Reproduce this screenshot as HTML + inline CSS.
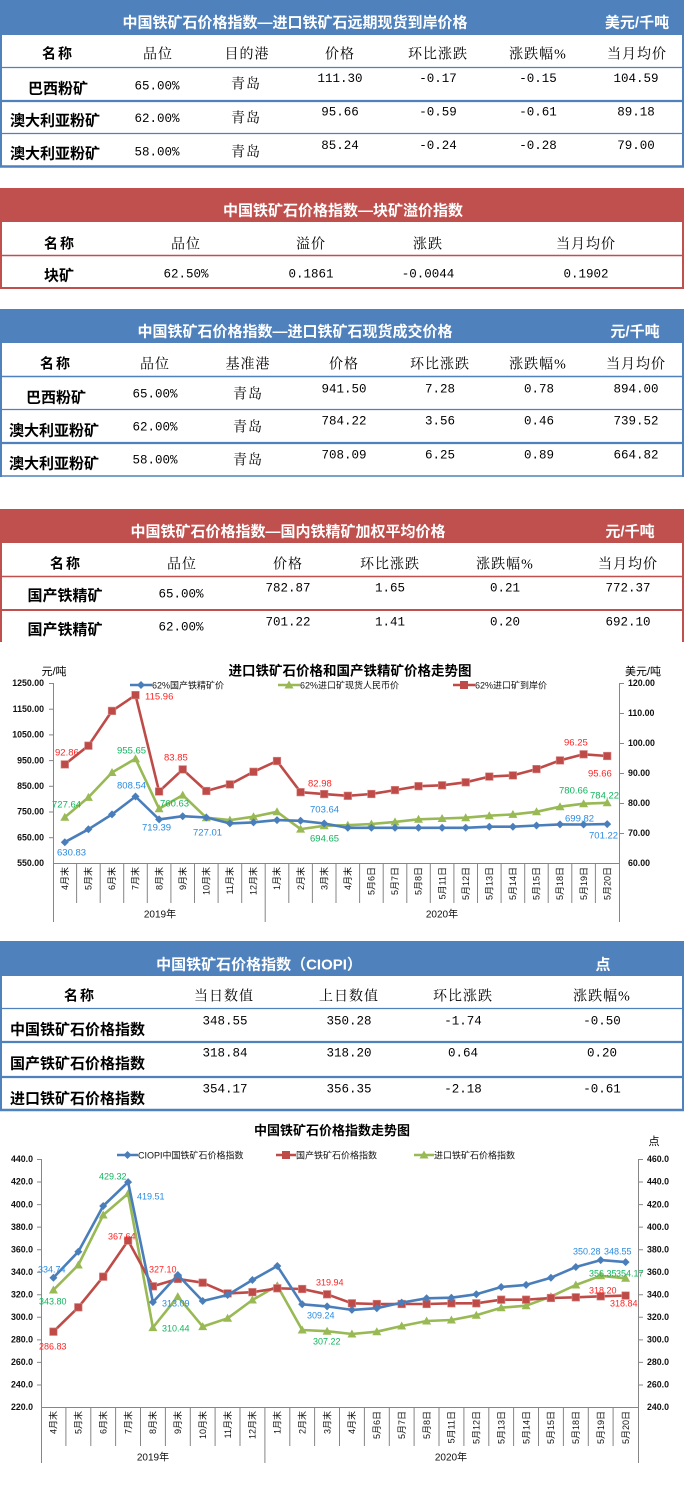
<!DOCTYPE html>
<html><head><meta charset="utf-8">
<style>
html,body{margin:0;padding:0;background:#fff;}
svg{display:block;}
.cj{font-family:"Liberation Sans","Noto Sans CJK SC",sans-serif;}
.mo{font-family:"Liberation Mono",monospace;font-size:12.5px;fill:#000;}
.tt{font-family:"Liberation Sans","Noto Sans CJK SC",sans-serif;font-size:15px;font-weight:bold;fill:#fff;}
.ch{font-family:"Liberation Serif","Noto Serif CJK SC",serif;font-size:14px;fill:#000;letter-spacing:1px;}
.chb{font-family:"Liberation Sans","Noto Sans CJK SC",sans-serif;font-size:14px;fill:#000;letter-spacing:2px;font-weight:bold;}
.nm{font-family:"Liberation Sans","Noto Sans CJK SC",sans-serif;font-size:15px;font-weight:bold;fill:#000;}
.ax{font-family:"Liberation Sans","Noto Sans CJK SC",sans-serif;font-size:9px;fill:#111;}
.lg{font-family:"Liberation Sans","Noto Sans CJK SC",sans-serif;font-size:9px;fill:#111;}
.dl{font-family:"Liberation Sans",sans-serif;font-size:9.5px;}
.b{fill:#2A8BE0;} .r{fill:#FF2424;} .g{fill:#12B45E;}
</style></head>
<body>
<svg width="684" height="1487" viewBox="0 0 684 1487" xmlns="http://www.w3.org/2000/svg">
<defs>
<marker id="dia" markerWidth="10" markerHeight="10" refX="5" refY="5" markerUnits="userSpaceOnUse" overflow="visible"><path d="M5,1 L9,5 L5,9 L1,5Z" fill="#4A7EBB"/></marker>
<marker id="sq" markerWidth="10" markerHeight="10" refX="5" refY="5" markerUnits="userSpaceOnUse" overflow="visible"><rect x="1.2" y="1.2" width="7.6" height="7.6" fill="#BE4B48" stroke="#D88A88" stroke-width="0.6"/></marker>
<marker id="tri" markerWidth="10" markerHeight="10" refX="5" refY="5" markerUnits="userSpaceOnUse" overflow="visible"><path d="M5,0.5 L9.5,8.5 L0.5,8.5Z" fill="#98B954"/></marker>
</defs>

<!-- ============ TABLE 1 ============ -->
<rect x="0" y="0" width="684" height="35" fill="#4F81BD"/>
<text class="tt" x="295" y="27.4" text-anchor="middle">中国铁矿石价格指数—进口铁矿石远期现货到岸价格</text>
<text class="tt" x="637" y="27.4" text-anchor="middle">美元/千吨</text>
<g stroke="#4F81BD" fill="none">
<line x1="1" y1="35" x2="1" y2="167" stroke-width="2"/>
<line x1="683" y1="35" x2="683" y2="167" stroke-width="2"/>
<line x1="0" y1="67.5" x2="684" y2="67.5" stroke-width="1.2"/>
<line x1="0" y1="101" x2="684" y2="101" stroke-width="2.2"/>
<line x1="0" y1="133.5" x2="684" y2="133.5" stroke-width="1.2"/>
<line x1="0" y1="166.5" x2="684" y2="166.5" stroke-width="2.4"/>
</g>
<text class="chb" x="58" y="58.3" text-anchor="middle">名称</text>
<g class="ch" text-anchor="middle">
<text x="158" y="58.3">品位</text><text x="247" y="58.3">目的港</text><text x="340" y="58.3">价格</text><text x="438" y="58.3">环比涨跌</text><text x="538" y="58.3">涨跌幅%</text><text x="637" y="58.3">当月均价</text>
</g>
<g class="nm" text-anchor="middle">
<text x="58" y="93.7">巴西粉矿</text><text x="55" y="125.7">澳大利亚粉矿</text><text x="55" y="158.7">澳大利亚粉矿</text>
</g>
<g class="mo" text-anchor="middle">
<text x="157" y="89.5">65.00%</text><text x="157" y="122.2">62.00%</text><text x="157" y="155.5">58.00%</text>
<text x="340" y="82.2">111.30</text><text x="438" y="82.2">-0.17</text><text x="538" y="82.2">-0.15</text><text x="636" y="82.2">104.59</text>
<text x="340" y="115.5">95.66</text><text x="438" y="115.5">-0.59</text><text x="538" y="115.5">-0.61</text><text x="636" y="115.5">89.18</text>
<text x="340" y="148.8">85.24</text><text x="438" y="148.8">-0.24</text><text x="538" y="148.8">-0.28</text><text x="636" y="148.8">79.00</text>
</g>
<g class="ch" text-anchor="middle">
<text x="246" y="88.3">青岛</text><text x="246" y="122.3">青岛</text><text x="246" y="156.3">青岛</text>
</g>

<!-- ============ TABLE 2 ============ -->
<rect x="0" y="188" width="684" height="34" fill="#C0504D"/>
<text class="tt" x="343" y="215.7" text-anchor="middle">中国铁矿石价格指数—块矿溢价指数</text>
<g stroke="#C0504D" fill="none">
<line x1="1" y1="222" x2="1" y2="289" stroke-width="2"/>
<line x1="683" y1="222" x2="683" y2="289" stroke-width="2"/>
<line x1="0" y1="255.5" x2="684" y2="255.5" stroke-width="1.4"/>
<line x1="0" y1="288" x2="684" y2="288" stroke-width="2"/>
</g>
<text class="chb" x="60" y="248.3" text-anchor="middle">名称</text>
<g class="ch" text-anchor="middle">
<text x="186" y="248.3">品位</text><text x="311" y="248.3">溢价</text><text x="428" y="248.3">涨跌</text><text x="586" y="248.3">当月均价</text>
</g>
<text class="nm" x="59" y="280.7" text-anchor="middle">块矿</text>
<g class="mo" text-anchor="middle">
<text x="186" y="277.5">62.50%</text><text x="311" y="277.5">0.1861</text><text x="428" y="277.5">-0.0044</text><text x="586" y="277.5">0.1902</text>
</g>

<!-- ============ TABLE 3 ============ -->
<rect x="0" y="309" width="684" height="34" fill="#4F81BD"/>
<text class="tt" x="295" y="336.7" text-anchor="middle">中国铁矿石价格指数—进口铁矿石现货成交价格</text>
<text class="tt" x="635" y="336.7" text-anchor="middle">元/千吨</text>
<g stroke="#4F81BD" fill="none">
<line x1="1" y1="343" x2="1" y2="477" stroke-width="2"/>
<line x1="683" y1="343" x2="683" y2="477" stroke-width="2"/>
<line x1="0" y1="376.5" x2="684" y2="376.5" stroke-width="1.4"/>
<line x1="0" y1="409.5" x2="684" y2="409.5" stroke-width="1.2"/>
<line x1="0" y1="443" x2="684" y2="443" stroke-width="2.2"/>
<line x1="0" y1="476" x2="684" y2="476" stroke-width="1.6"/>
</g>
<text class="chb" x="56" y="368.3" text-anchor="middle">名称</text>
<g class="ch" text-anchor="middle">
<text x="155" y="368.3">品位</text><text x="248" y="368.3">基准港</text><text x="344" y="368.3">价格</text><text x="440" y="368.3">环比涨跌</text><text x="538" y="368.3">涨跌幅%</text><text x="636" y="368.3">当月均价</text>
</g>
<g class="nm" text-anchor="middle">
<text x="56" y="402.7">巴西粉矿</text><text x="54" y="435.7">澳大利亚粉矿</text><text x="54" y="468.7">澳大利亚粉矿</text>
</g>
<g class="mo" text-anchor="middle">
<text x="155" y="397.5">65.00%</text><text x="155" y="430.5">62.00%</text><text x="155" y="463.5">58.00%</text>
<text x="344" y="392.5">941.50</text><text x="440" y="392.5">7.28</text><text x="539" y="392.5">0.78</text><text x="636" y="392.5">894.00</text>
<text x="344" y="424.5">784.22</text><text x="440" y="424.5">3.56</text><text x="539" y="424.5">0.46</text><text x="636" y="424.5">739.52</text>
<text x="344" y="458.5">708.09</text><text x="440" y="458.5">6.25</text><text x="539" y="458.5">0.89</text><text x="636" y="458.5">664.82</text>
</g>
<g class="ch" text-anchor="middle">
<text x="248" y="398.3">青岛</text><text x="248" y="431.3">青岛</text><text x="248" y="464.3">青岛</text>
</g>

<!-- ============ TABLE 4 ============ -->
<rect x="0" y="509" width="684" height="34" fill="#C0504D"/>
<text class="tt" x="288" y="536.7" text-anchor="middle">中国铁矿石价格指数—国内铁精矿加权平均价格</text>
<text class="tt" x="630" y="536.7" text-anchor="middle">元/千吨</text>
<g stroke="#C0504D" fill="none">
<line x1="1" y1="543" x2="1" y2="642" stroke-width="2"/>
<line x1="683" y1="543" x2="683" y2="642" stroke-width="2"/>
<line x1="0" y1="576.5" x2="684" y2="576.5" stroke-width="1.5"/>
<line x1="0" y1="610" x2="684" y2="610" stroke-width="2"/>
</g>
<text class="chb" x="66" y="568.3" text-anchor="middle">名称</text>
<g class="ch" text-anchor="middle">
<text x="182" y="568.3">品位</text><text x="288" y="568.3">价格</text><text x="390" y="568.3">环比涨跌</text><text x="505" y="568.3">涨跌幅%</text><text x="628" y="568.3">当月均价</text>
</g>
<g class="nm" text-anchor="middle">
<text x="65" y="600.7">国产铁精矿</text><text x="65" y="634.7">国产铁精矿</text>
</g>
<g class="mo" text-anchor="middle">
<text x="181" y="597.5">65.00%</text><text x="181" y="630.5">62.00%</text>
<text x="288" y="591.5">782.87</text><text x="390" y="591.5">1.65</text><text x="505" y="591.5">0.21</text><text x="628" y="591.5">772.37</text>
<text x="288" y="625.5">701.22</text><text x="390" y="625.5">1.41</text><text x="505" y="625.5">0.20</text><text x="628" y="625.5">692.10</text>
</g>

<!-- ============ CHART 1 ============ -->
<text class="cj" x="350" y="675.5" text-anchor="middle" style="font-size:13.5px;font-weight:bold;fill:#000">进口铁矿石价格和国产铁精矿价格走势图</text>
<text class="cj" x="54" y="675" text-anchor="middle" style="font-size:11px;fill:#000">元/吨</text>
<text class="cj" x="643" y="675" text-anchor="middle" style="font-size:11px;fill:#000">美元/吨</text>
<!-- legend -->
<line x1="130" y1="685" x2="152" y2="685" stroke="#4A7EBB" stroke-width="2.5"/><path d="M141,681 L145,685 L141,689 L137,685Z" fill="#4A7EBB"/>
<text class="lg" x="152" y="688.3">62%国产铁精矿价</text>
<line x1="278" y1="685" x2="300" y2="685" stroke="#98B954" stroke-width="2.5"/><path d="M289,680.5 L293.5,688.5 L284.5,688.5Z" fill="#98B954"/>
<text class="lg" x="300" y="688.3">62%进口矿现货人民币价</text>
<line x1="453" y1="685" x2="475" y2="685" stroke="#BE4B48" stroke-width="2.5"/><rect x="460" y="681" width="8" height="8" fill="#BE4B48"/>
<text class="lg" x="475" y="688.3">62%进口矿到岸价</text>
<!-- axes -->
<g stroke="#868686" stroke-width="1" fill="none">
<line x1="53.5" y1="683" x2="53.5" y2="922"/>
<line x1="619.5" y1="683" x2="619.5" y2="922"/>
<line x1="53" y1="863.5" x2="620" y2="863.5"/>
<line x1="49" y1="683.5" x2="53" y2="683.5"/><line x1="49" y1="709.2" x2="53" y2="709.2"/><line x1="49" y1="734.9" x2="53" y2="734.9"/><line x1="49" y1="760.6" x2="53" y2="760.6"/><line x1="49" y1="786.3" x2="53" y2="786.3"/><line x1="49" y1="812" x2="53" y2="812"/><line x1="49" y1="837.7" x2="53" y2="837.7"/>
<line x1="620" y1="683.5" x2="624" y2="683.5"/><line x1="620" y1="713.5" x2="624" y2="713.5"/><line x1="620" y1="743.5" x2="624" y2="743.5"/><line x1="620" y1="773.5" x2="624" y2="773.5"/><line x1="620" y1="803.5" x2="624" y2="803.5"/><line x1="620" y1="833.5" x2="624" y2="833.5"/>
<path d="M76.6,863V903 M100.2,863V903 M123.7,863V903 M147.3,863V903 M170.9,863V903 M194.5,863V903 M218.1,863V903 M241.7,863V903 M265.2,863V922 M288.8,863V903 M312.4,863V903 M336,863V903 M359.6,863V903 M383.2,863V903 M406.8,863V903 M430.3,863V903 M453.9,863V903 M477.5,863V903 M501.1,863V903 M524.7,863V903 M548.2,863V903 M571.8,863V903 M595.4,863V903"/>
</g>
<g class="ax" text-anchor="end" style="font-weight:bold;font-size:8.8px">
<text x="44" y="686.2">1250.00</text><text x="44" y="711.9">1150.00</text><text x="44" y="737.6">1050.00</text><text x="44" y="763.3">950.00</text><text x="44" y="789">850.00</text><text x="44" y="814.7">750.00</text><text x="44" y="840.4">650.00</text><text x="44" y="866.1">550.00</text>
</g>
<g class="ax" text-anchor="start" style="font-weight:bold;font-size:8.8px">
<text x="628" y="686.2">120.00</text><text x="628" y="716.2">110.00</text><text x="628" y="746.2">100.00</text><text x="628" y="776.2">90.00</text><text x="628" y="806.2">80.00</text><text x="628" y="836.2">70.00</text><text x="628" y="866.2">60.00</text>
</g>
<g class="ax" text-anchor="end">
<text transform="translate(68,867) rotate(-90)">4月末</text>
<text transform="translate(91.6,867) rotate(-90)">5月末</text>
<text transform="translate(115.2,867) rotate(-90)">6月末</text>
<text transform="translate(138.7,867) rotate(-90)">7月末</text>
<text transform="translate(162.3,867) rotate(-90)">8月末</text>
<text transform="translate(185.9,867) rotate(-90)">9月末</text>
<text transform="translate(209.5,867) rotate(-90)">10月末</text>
<text transform="translate(233.1,867) rotate(-90)">11月末</text>
<text transform="translate(256.7,867) rotate(-90)">12月末</text>
<text transform="translate(280.2,867) rotate(-90)">1月末</text>
<text transform="translate(303.8,867) rotate(-90)">2月末</text>
<text transform="translate(327.4,867) rotate(-90)">3月末</text>
<text transform="translate(351,867) rotate(-90)">4月末</text>
<text transform="translate(374.6,867) rotate(-90)">5月6日</text>
<text transform="translate(398.2,867) rotate(-90)">5月7日</text>
<text transform="translate(421.7,867) rotate(-90)">5月8日</text>
<text transform="translate(445.3,867) rotate(-90)">5月11日</text>
<text transform="translate(468.9,867) rotate(-90)">5月12日</text>
<text transform="translate(492.5,867) rotate(-90)">5月13日</text>
<text transform="translate(516.1,867) rotate(-90)">5月14日</text>
<text transform="translate(539.7,867) rotate(-90)">5月15日</text>
<text transform="translate(563.2,867) rotate(-90)">5月18日</text>
<text transform="translate(586.8,867) rotate(-90)">5月19日</text>
<text transform="translate(610.4,867) rotate(-90)">5月20日</text>
</g>
<text class="ax" x="160" y="917.5" text-anchor="middle" style="font-size:10px">2019年</text>
<text class="ax" x="442" y="917.5" text-anchor="middle" style="font-size:10px">2020年</text>
<!-- series -->
<polyline fill="none" stroke="#BE4B48" stroke-width="2.6" stroke-linejoin="round" marker-start="url(#sq)" marker-mid="url(#sq)" marker-end="url(#sq)"
 points="64.8,764.4 88.4,745.7 112,710.9 135.5,695.1 159.1,791.5 182.7,769.4 206.3,791 229.9,784.4 253.5,771.8 277,761 300.6,792.2 324.2,794.1 347.8,795.8 371.4,794 395,790.1 418.5,786.2 442.1,785.3 465.7,782.3 489.3,776.6 512.9,775.4 536.5,769.1 560,760.4 583.6,754.3 607.2,756"/>
<polyline fill="none" stroke="#98B954" stroke-width="2.6" stroke-linejoin="round" marker-start="url(#tri)" marker-mid="url(#tri)" marker-end="url(#tri)"
 points="64.8,817.3 88.4,797.4 112,772.5 135.5,758.7 159.1,808.8 182.7,795.1 206.3,817.7 229.9,820.1 253.5,816.7 277,811.8 300.6,829.1 324.2,825.8 347.8,825.2 371.4,824 395,821.9 418.5,819.3 442.1,818.5 465.7,817.7 489.3,815.7 512.9,814.4 536.5,811.8 560,806.7 583.6,803.7 607.2,802.8"/>
<polyline fill="none" stroke="#4A7EBB" stroke-width="2.6" stroke-linejoin="round" marker-start="url(#dia)" marker-mid="url(#dia)" marker-end="url(#dia)"
 points="64.8,842.2 88.4,829.3 112,814.4 135.5,796.5 159.1,819.4 182.7,816.2 206.3,817.5 229.9,823.4 253.5,822.4 277,820.1 300.6,820.8 324.2,823.5 347.8,827.8 371.4,827.8 395,827.8 418.5,827.8 442.1,827.8 465.7,827.8 489.3,826.7 512.9,826.7 536.5,825.5 560,824.4 583.6,824.5 607.2,824.1"/>
<!-- data labels -->
<g class="dl">
<text class="r" x="55" y="755.4">92.86</text>
<text class="r" x="145" y="699.4">115.96</text>
<text class="g" x="117" y="753.4">955.65</text>
<text class="g" x="52" y="807.4">727.64</text>
<text class="b" x="117" y="788.4">808.54</text>
<text class="g" x="160" y="806.4">760.63</text>
<text class="b" x="142" y="830.4">719.39</text>
<text class="r" x="164" y="760.4">83.85</text>
<text class="b" x="193" y="835.4">727.01</text>
<text class="b" x="57" y="855.4">630.83</text>
<text class="r" x="308" y="786.4">82.98</text>
<text class="b" x="310" y="812.4">703.64</text>
<text class="g" x="310" y="841.4">694.65</text>
<text class="r" x="564" y="745.4">96.25</text>
<text class="r" x="588" y="776.4">95.66</text>
<text class="g" x="559" y="793.4">780.66</text>
<text class="g" x="590" y="798.4">784.22</text>
<text class="b" x="565" y="821.4">699.82</text>
<text class="b" x="589" y="838.4">701.22</text>
</g>

<!-- ============ TABLE 5 ============ -->
<rect x="0" y="941" width="684" height="35" fill="#4F81BD"/>
<text class="tt" x="259" y="969.7" text-anchor="middle">中国铁矿石价格指数（CIOPI）</text>
<text class="tt" x="603" y="969.7" text-anchor="middle">点</text>
<g stroke="#4F81BD" fill="none">
<line x1="1" y1="976" x2="1" y2="1111" stroke-width="2"/>
<line x1="683" y1="976" x2="683" y2="1111" stroke-width="2"/>
<line x1="0" y1="1008.5" x2="684" y2="1008.5" stroke-width="1.2"/>
<line x1="0" y1="1042" x2="684" y2="1042" stroke-width="2.2"/>
<line x1="0" y1="1077" x2="684" y2="1077" stroke-width="2.2"/>
<line x1="0" y1="1110" x2="684" y2="1110" stroke-width="2.4"/>
</g>
<text class="chb" x="80" y="1000.3" text-anchor="middle">名称</text>
<g class="ch" text-anchor="middle">
<text x="224" y="1000.3">当日数值</text><text x="349" y="1000.3">上日数值</text><text x="463" y="1000.3">环比涨跌</text><text x="602" y="1000.3">涨跌幅%</text>
</g>
<g class="nm" text-anchor="start">
<text x="10" y="1034.7">中国铁矿石价格指数</text><text x="10" y="1068.7">国产铁矿石价格指数</text><text x="10" y="1103.7">进口铁矿石价格指数</text>
</g>
<g class="mo" text-anchor="middle">
<text x="225" y="1024.5">348.55</text><text x="349" y="1024.5">350.28</text><text x="463" y="1024.5">-1.74</text><text x="602" y="1024.5">-0.50</text>
<text x="225" y="1056.5">318.84</text><text x="349" y="1056.5">318.20</text><text x="463" y="1056.5">0.64</text><text x="602" y="1056.5">0.20</text>
<text x="225" y="1092.5">354.17</text><text x="349" y="1092.5">356.35</text><text x="463" y="1092.5">-2.18</text><text x="602" y="1092.5">-0.61</text>
</g>

<!-- ============ CHART 2 ============ -->
<text class="cj" x="332" y="1135" text-anchor="middle" style="font-size:13px;font-weight:bold;fill:#000">中国铁矿石价格指数走势图</text>
<text class="cj" x="654" y="1145" text-anchor="middle" style="font-size:11px;fill:#000">点</text>
<!-- legend -->
<line x1="117" y1="1155" x2="138" y2="1155" stroke="#4A7EBB" stroke-width="2.5"/><path d="M127.5,1151 L131.5,1155 L127.5,1159 L123.5,1155Z" fill="#4A7EBB"/>
<text class="lg" x="138" y="1158.3">CIOPI中国铁矿石价格指数</text>
<line x1="276" y1="1155" x2="296" y2="1155" stroke="#BE4B48" stroke-width="2.5"/><rect x="282" y="1151" width="8" height="8" fill="#BE4B48"/>
<text class="lg" x="296" y="1158.3">国产铁矿石价格指数</text>
<line x1="414" y1="1155" x2="434" y2="1155" stroke="#98B954" stroke-width="2.5"/><path d="M424,1150.5 L428.5,1158.5 L419.5,1158.5Z" fill="#98B954"/>
<text class="lg" x="434" y="1158.3">进口铁矿石价格指数</text>
<!-- axes -->
<g stroke="#868686" stroke-width="1" fill="none">
<line x1="41.5" y1="1159" x2="41.5" y2="1463"/>
<line x1="638.5" y1="1159" x2="638.5" y2="1463"/>
<line x1="41" y1="1407.5" x2="639" y2="1407.5"/>
<path d="M37,1159.5H41 M37,1182H41 M37,1204.6H41 M37,1227.1H41 M37,1249.7H41 M37,1272.2H41 M37,1294.8H41 M37,1317.3H41 M37,1339.9H41 M37,1362.4H41 M37,1385H41"/>
<path d="M639,1159.5H643 M639,1182H643 M639,1204.6H643 M639,1227.1H643 M639,1249.7H643 M639,1272.2H643 M639,1294.8H643 M639,1317.3H643 M639,1339.9H643 M639,1362.4H643 M639,1385H643"/>
<path d="M65.9,1407V1446 M90.8,1407V1446 M115.6,1407V1446 M140.5,1407V1446 M165.4,1407V1446 M190.3,1407V1446 M215.1,1407V1446 M240,1407V1446 M264.9,1407V1463 M289.8,1407V1446 M314.6,1407V1446 M339.5,1407V1446 M364.4,1407V1446 M389.3,1407V1446 M414.1,1407V1446 M439,1407V1446 M463.9,1407V1446 M488.8,1407V1446 M513.6,1407V1446 M538.5,1407V1446 M563.4,1407V1446 M588.3,1407V1446 M613.1,1407V1446"/>
</g>
<g class="ax" text-anchor="end" style="font-weight:bold;font-size:8.8px">
<text x="33" y="1162.2">440.0</text><text x="33" y="1184.7">420.0</text><text x="33" y="1207.3">400.0</text><text x="33" y="1229.8">380.0</text><text x="33" y="1252.4">360.0</text><text x="33" y="1274.9">340.0</text><text x="33" y="1297.5">320.0</text><text x="33" y="1320">300.0</text><text x="33" y="1342.6">280.0</text><text x="33" y="1365.1">260.0</text><text x="33" y="1387.7">240.0</text><text x="33" y="1410.2">220.0</text>
</g>
<g class="ax" text-anchor="start" style="font-weight:bold;font-size:8.8px">
<text x="647" y="1162.2">460.0</text><text x="647" y="1184.7">440.0</text><text x="647" y="1207.3">420.0</text><text x="647" y="1229.8">400.0</text><text x="647" y="1252.4">380.0</text><text x="647" y="1274.9">360.0</text><text x="647" y="1297.5">340.0</text><text x="647" y="1320">320.0</text><text x="647" y="1342.6">300.0</text><text x="647" y="1365.1">280.0</text><text x="647" y="1387.7">260.0</text><text x="647" y="1410.2">240.0</text>
</g>
<g class="ax" text-anchor="end">
<text transform="translate(56.6,1411) rotate(-90)">4月末</text>
<text transform="translate(81.5,1411) rotate(-90)">5月末</text>
<text transform="translate(106.4,1411) rotate(-90)">6月末</text>
<text transform="translate(131.3,1411) rotate(-90)">7月末</text>
<text transform="translate(156.1,1411) rotate(-90)">8月末</text>
<text transform="translate(181,1411) rotate(-90)">9月末</text>
<text transform="translate(205.9,1411) rotate(-90)">10月末</text>
<text transform="translate(230.8,1411) rotate(-90)">11月末</text>
<text transform="translate(255.6,1411) rotate(-90)">12月末</text>
<text transform="translate(280.5,1411) rotate(-90)">1月末</text>
<text transform="translate(305.4,1411) rotate(-90)">2月末</text>
<text transform="translate(330.3,1411) rotate(-90)">3月末</text>
<text transform="translate(355.1,1411) rotate(-90)">4月末</text>
<text transform="translate(380,1411) rotate(-90)">5月6日</text>
<text transform="translate(404.9,1411) rotate(-90)">5月7日</text>
<text transform="translate(429.8,1411) rotate(-90)">5月8日</text>
<text transform="translate(454.6,1411) rotate(-90)">5月11日</text>
<text transform="translate(479.5,1411) rotate(-90)">5月12日</text>
<text transform="translate(504.4,1411) rotate(-90)">5月13日</text>
<text transform="translate(529.3,1411) rotate(-90)">5月14日</text>
<text transform="translate(554.1,1411) rotate(-90)">5月15日</text>
<text transform="translate(579,1411) rotate(-90)">5月18日</text>
<text transform="translate(603.9,1411) rotate(-90)">5月19日</text>
<text transform="translate(628.8,1411) rotate(-90)">5月20日</text>
</g>
<text class="ax" x="153" y="1460.5" text-anchor="middle" style="font-size:10px">2019年</text>
<text class="ax" x="451" y="1460.5" text-anchor="middle" style="font-size:10px">2020年</text>
<!-- series -->
<polyline fill="none" stroke="#98B954" stroke-width="2.6" stroke-linejoin="round" marker-start="url(#tri)" marker-mid="url(#tri)" marker-end="url(#tri)"
 points="53.4,1290 78.3,1265 103.2,1215 128.1,1193.6 152.9,1327.6 177.8,1296.6 202.7,1326.6 227.6,1318.3 252.4,1300 277.3,1285.7 302.2,1330 327.1,1331.2 351.9,1334 376.8,1331.7 401.7,1326 426.6,1321 451.4,1320 476.3,1315.2 501.2,1307.7 526.1,1305.7 550.9,1296.6 575.8,1285 600.7,1275.8 625.6,1278.3"/>
<polyline fill="none" stroke="#BE4B48" stroke-width="2.6" stroke-linejoin="round" marker-start="url(#sq)" marker-mid="url(#sq)" marker-end="url(#sq)"
 points="53.4,1331.7 78.3,1307.3 103.2,1276.7 128.1,1240.6 152.9,1286.3 177.8,1278.9 202.7,1282.7 227.6,1293.4 252.4,1292.2 277.3,1288.3 302.2,1289 327.1,1294.3 351.9,1303.3 376.8,1304 401.7,1304 426.6,1304 451.4,1303.3 476.3,1303.3 501.2,1299.7 526.1,1299.7 550.9,1298 575.8,1297.3 600.7,1296.3 625.6,1295.6"/>
<polyline fill="none" stroke="#4A7EBB" stroke-width="2.6" stroke-linejoin="round" marker-start="url(#dia)" marker-mid="url(#dia)" marker-end="url(#dia)"
 points="53.4,1277.7 78.3,1251.7 103.2,1206 128.1,1182.1 152.9,1302.1 177.8,1275 202.7,1301 227.6,1295 252.4,1280 277.3,1266 302.2,1304.3 327.1,1306.4 351.9,1309.9 376.8,1308.2 401.7,1302.6 426.6,1298.3 451.4,1297.7 476.3,1294.3 501.2,1287 526.1,1284.9 550.9,1277.7 575.8,1267 600.7,1260.1 625.6,1262.1"/>
<!-- data labels -->
<g class="dl" style="font-size:9px">
<text class="b" x="38" y="1272.3">334.74</text>
<text class="g" x="39" y="1304.3">343.80</text>
<text class="g" x="99" y="1179.3">429.32</text>
<text class="b" x="137" y="1199.3">419.51</text>
<text class="r" x="108" y="1239.3">367.64</text>
<text class="r" x="149" y="1272.3">327.10</text>
<text class="b" x="162" y="1306.3">313.09</text>
<text class="g" x="162" y="1331.3">310.44</text>
<text class="r" x="39" y="1349.3">286.83</text>
<text class="r" x="316" y="1285.3">319.94</text>
<text class="b" x="307" y="1318.3">309.24</text>
<text class="g" x="313" y="1344.3">307.22</text>
<text class="b" x="573" y="1254.3">350.28</text>
<text class="b" x="604" y="1254.3">348.55</text>
<text class="g" x="589" y="1276.3">356.35</text>
<text class="g" x="616" y="1276.3">354.17</text>
<text class="r" x="589" y="1293.3">318.20</text>
<text class="r" x="610" y="1306.3">318.84</text>
</g>
</svg>
</body></html>
